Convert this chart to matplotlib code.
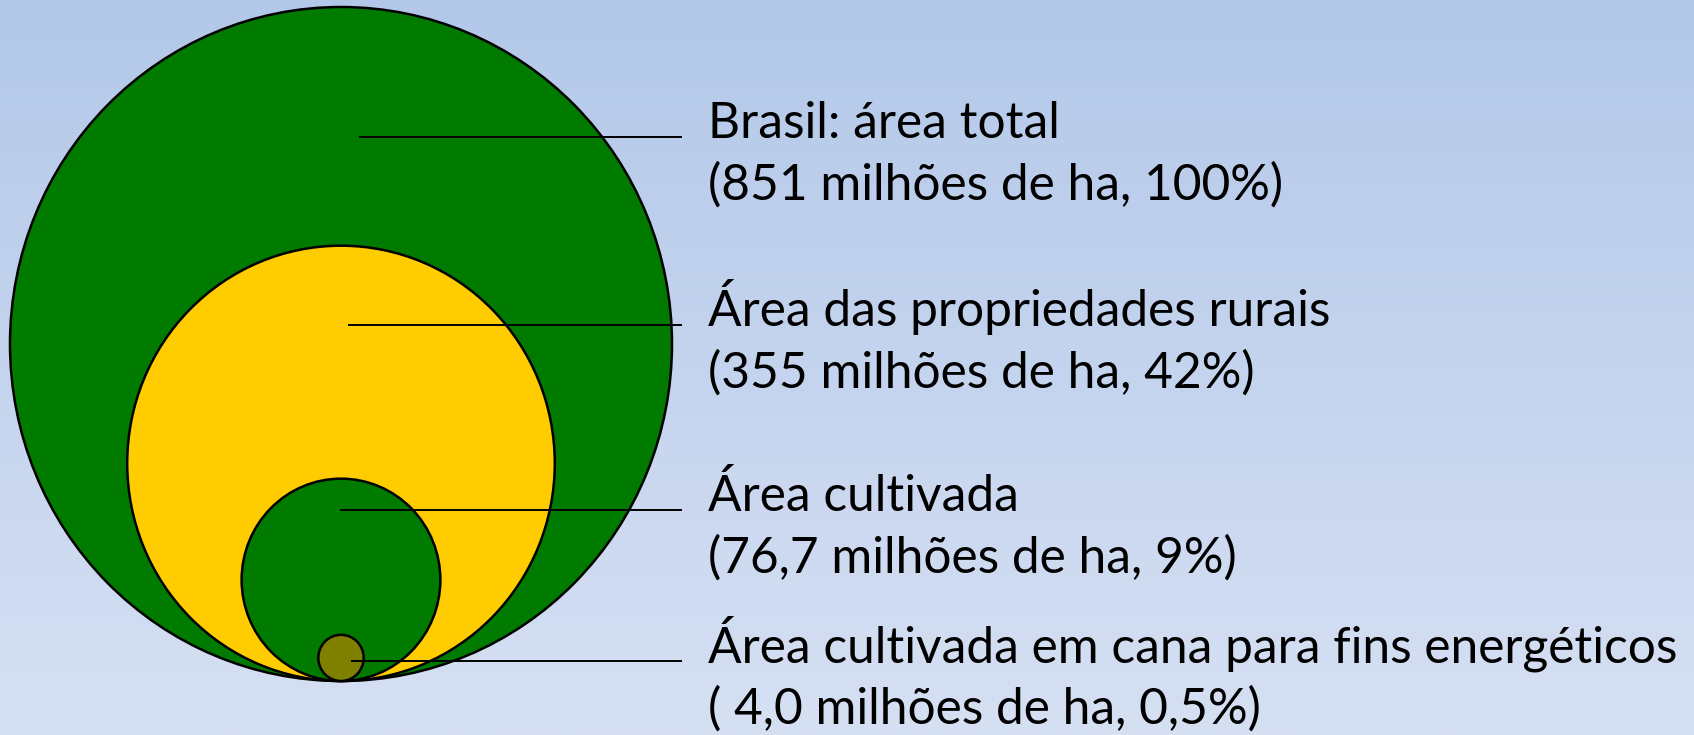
import numpy as np
import matplotlib.pyplot as plt
from matplotlib.patches import Ellipse

plt.rcParams['font.family'] = ['Lato', 'DejaVu Sans']

# data
labels = ["Brasil: área total", "Área das propriedades rurais",
          "Área cultivada", "Área cultivada em cana para fins energéticos"]
details = ["(851 milhões de ha, 100%)", "(355 milhões de ha, 42%)",
           "(76,7 milhões de ha, 9%)", "( 4,0 milhões de ha, 0,5%)"]
areas = [851, 355, 76.7, 4.0]
colors = ["#007b00", "#ffcc00", "#007b00", "#808000"]

# layout (pixel coordinates)
W, H = 1694, 735
base_x, base_y = 341, 681      # common tangent point at the bottom
Rx, Ry = 331, 337              # shapes are drawn very slightly taller than wide
line_y = [137, 325, 510, 661]
line_x0 = [360, 349, 341, 352]
line_x1 = 681
text_x = 708
fs = 35.7

fig = plt.figure(figsize=(W / 100, H / 100), dpi=100)
ax = fig.add_axes([0, 0, 1, 1])
ax.set_xlim(0, W)
ax.set_ylim(H, 0)
ax.axis('off')

# background gradient
top = np.array([179, 200, 233]) / 255
bottom = np.array([214, 224, 243]) / 255
t = np.linspace(0, 1, 256)[:, None]
grad = (top * (1 - t) + bottom * t)[:, None, :]
ax.imshow(grad, extent=[0, W, H, 0], aspect='auto', zorder=0)

# nested circles, radius proportional to sqrt(area)
for a, c in zip(areas, colors):
    k = np.sqrt(a / areas[0])
    ax.add_patch(Ellipse((base_x, base_y - Ry * k), 2 * Rx * k, 2 * Ry * k,
                         facecolor=c, edgecolor='black', linewidth=1.8,
                         zorder=2))

# leader lines and labels
for i in range(len(labels)):
    ax.plot([line_x0[i], line_x1], [line_y[i], line_y[i]], color='black',
            linewidth=1.4, zorder=3)
    ax.text(text_x, line_y[i] + 1, labels[i], fontsize=fs, va='baseline',
            ha='left', color='black')
    ax.text(text_x, line_y[i] + 63, details[i], fontsize=fs, va='baseline',
            ha='left', color='black')

fig.savefig('out.png', dpi=100)
